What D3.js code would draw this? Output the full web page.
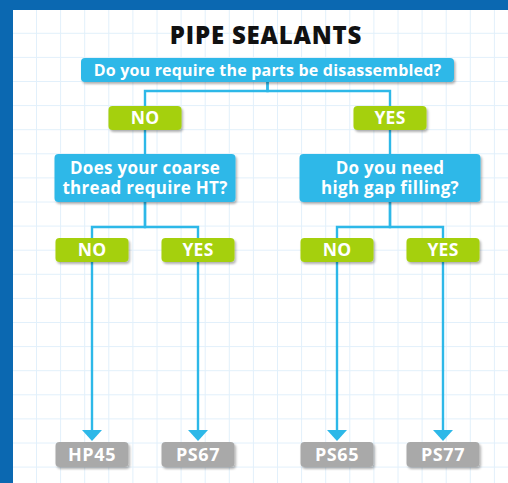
<!DOCTYPE html>
<html>
<head>
<meta charset="utf-8">
<script src="https://cdn.jsdelivr.net/npm/d3@7"></script>
<style>
  html, body { margin: 0; padding: 0; background: #fff; }
  text { font-family: "Open Sans", sans-serif; font-weight: 700; }
</style>
</head>
<body>
<svg id="chart"></svg>
<script>
const width = 508;
const height = 483;

// chart content
const title = "PIPE SEALANTS";
const questions = [
  "Do you require the parts be disassembled?",
  "Does your coarse\nthread require HT?",
  "Do you need\nhigh gap filling?"
];
const answers = ["NO", "YES"];
const products = ["HP45", "PS67", "PS65", "PS77"];

// build the decision tree from the arrays
const treeData = {
  type: "q", label: questions[0],
  children: answers.map((a, i) => ({
    type: "a", label: a,
    children: [{
      type: "q", label: questions[i + 1],
      children: answers.map((b, j) => ({
        type: "a", label: b,
        children: [{ type: "p", label: products[i * 2 + j] }]
      }))
    }]
  }))
};

const blue = "#2db8e8";
const green = "#a5d00d";
const gray = "#a9a9a9";
const frame = "#0b68b1";

const svg = d3.select("#chart")
  .attr("width", width)
  .attr("height", height);

svg.append("defs").append("filter")
  .attr("id", "shadow")
  .attr("x", "-10%").attr("y", "-20%")
  .attr("width", "130%").attr("height", "160%")
  .append("feDropShadow")
  .attr("dx", 1.5).attr("dy", 2)
  .attr("stdDeviation", 1.2)
  .attr("flood-color", "#000")
  .attr("flood-opacity", 0.3);

// background grid
const step = 24.1;
svg.append("rect").attr("width", width).attr("height", height).attr("fill", "#fff");
const grid = svg.append("g").attr("stroke", "#e2f0fb").attr("stroke-width", 1);
grid.selectAll("line.v")
  .data(d3.range(36.5, width, step))
  .enter().append("line")
  .attr("x1", d => d).attr("x2", d => d)
  .attr("y1", 0).attr("y2", height);
grid.selectAll("line.h")
  .data(d3.range(9.2, height, step))
  .enter().append("line")
  .attr("y1", d => d).attr("y2", d => d)
  .attr("x1", 0).attr("x2", width);

// blue frame
svg.append("rect").attr("x", 0).attr("y", 0).attr("width", 13).attr("height", height).attr("fill", frame);
svg.append("rect").attr("x", 0).attr("y", 0).attr("width", width).attr("height", 10).attr("fill", frame);

// title
svg.append("text")
  .attr("x", 266)
  .attr("y", 44)
  .attr("text-anchor", "middle")
  .attr("fill", "#111")
  .style("font-size", "24px")
  .style("font-weight", 800)
  .style("letter-spacing", "0.8px")
  .text(title);

// layout: x from nested point scales, y from depth rows
const root = d3.hierarchy(treeData);
const groupX = d3.scalePoint().domain(answers).range([145, 390]);
const pairX = d3.scalePoint().domain(answers).range([-53, 53]);
const rowY = d3.scaleOrdinal().domain([0, 1, 2, 3, 4]).range([70, 118, 178, 250, 454.5]);
const elbowY = d3.scaleOrdinal().domain([0, 2]).range([91, 227]);

function boxSize(d) {
  if (d.depth === 0) return [373, 24];
  if (d.data.type === "q") return [181, 48];
  if (d.data.type === "p") return [73, 25];
  return [73, 24];
}
function fill(d) {
  return d.data.type === "q" ? blue : d.data.type === "a" ? green : gray;
}
function fontSize(d) {
  if (d.depth === 0) return "16px";
  if (d.data.type === "q") return "17px";
  if (d.data.type === "p") return "18px";
  return "17.5px";
}
function spacing(d) {
  if (d.depth === 0) return "0.2px";
  if (d.data.type === "q") return "0.3px";
  if (d.data.type === "p") return "0.6px";
  return "0.3px";
}

root.each(d => {
  const path = d.ancestors().reverse();
  if (d.depth === 0) d.cx = d3.mean(groupX.range());
  else if (d.depth < 3) d.cx = groupX(path[1].data.label);
  else d.cx = groupX(path[1].data.label) + pairX(path[3].data.label);
  d.cy = rowY(d.depth);
  const s = boxSize(d);
  d.w = s[0];
  d.h = s[1];
});

// connectors
const arrowH = 11;
svg.append("g")
  .attr("fill", "none")
  .attr("stroke", blue)
  .attr("stroke-width", 2.4)
  .selectAll("path")
  .data(root.links())
  .enter().append("path")
  .attr("d", l => {
    const s = l.source, t = l.target;
    const y0 = s.cy + s.h / 2;
    const y1 = t.cy - t.h / 2 - (t.data.type === "p" ? arrowH + 1 : 0);
    if (s.children.length > 1) {
      const e = elbowY(s.depth);
      return `M${s.cx},${y0}V${e}H${t.cx}V${y1}`;
    }
    return `M${t.cx},${y0}V${y1}`;
  });

svg.append("g").selectAll("path")
  .data(root.leaves())
  .enter().append("path")
  .attr("fill", blue)
  .attr("d", d => {
    const tip = d.cy - d.h / 2 - 1;
    return `M${d.cx - 10},${tip - arrowH}H${d.cx + 10}L${d.cx},${tip}Z`;
  });

// boxes
const nodes = svg.append("g").selectAll("g")
  .data(root.descendants())
  .enter().append("g")
  .attr("transform", d => `translate(${d.cx},${d.cy})`);

nodes.append("rect")
  .attr("x", d => -d.w / 2)
  .attr("y", d => -d.h / 2)
  .attr("width", d => d.w)
  .attr("height", d => d.h)
  .attr("rx", 4)
  .attr("fill", fill)
  .attr("filter", "url(#shadow)");

nodes.append("text")
  .attr("text-anchor", "middle")
  .attr("fill", "#fff")
  .style("font-size", fontSize)
  .style("letter-spacing", spacing)
  .each(function(d) {
    const lines = d.data.label.split("\n");
    d3.select(this).selectAll("tspan")
      .data(lines)
      .enter().append("tspan")
      .attr("x", 0)
      .attr("y", (l, i) => (i - (lines.length - 1) / 2) * 19.5 + 6)
      .text(l => l);
  });
</script>
</body>
</html>
